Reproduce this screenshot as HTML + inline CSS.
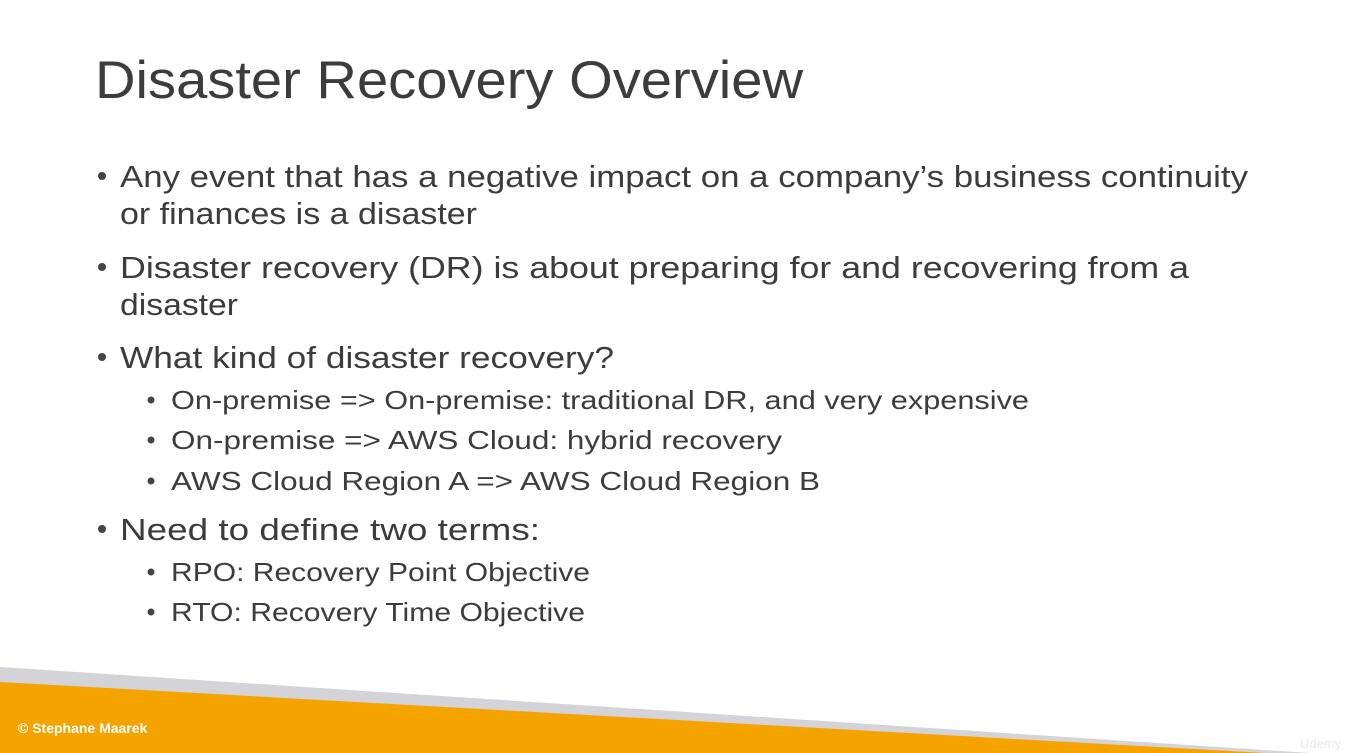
<!DOCTYPE html>
<html><head><meta charset="utf-8"><style>
html,body{margin:0;padding:0;background:#fff;}
svg{display:block;}
text{font-family:"Liberation Sans",sans-serif;fill:#3c3c3c;}
</style></head><body>
<svg width="1345" height="753" viewBox="0 0 1345 753" xmlns="http://www.w3.org/2000/svg">
<rect width="1345" height="753" fill="#fff"/>
<text x="95" y="98" font-size="53" textLength="708" lengthAdjust="spacingAndGlyphs">Disaster Recovery Overview</text>
<g font-size="31">
<circle cx="102" cy="176" r="4" fill="#444"/>
<text x="120" y="187" textLength="1128" lengthAdjust="spacingAndGlyphs">Any event that has a negative impact on a company’s business continuity</text>
<text x="120" y="224" textLength="357" lengthAdjust="spacingAndGlyphs">or finances is a disaster</text>
<circle cx="102" cy="267" r="4" fill="#444"/>
<text x="120" y="278" textLength="1069" lengthAdjust="spacingAndGlyphs">Disaster recovery (DR) is about preparing for and recovering from a</text>
<text x="120" y="315" textLength="118" lengthAdjust="spacingAndGlyphs">disaster</text>
<circle cx="102" cy="357" r="4" fill="#444"/>
<text x="120" y="368" textLength="494" lengthAdjust="spacingAndGlyphs">What kind of disaster recovery?</text>
<circle cx="102" cy="529" r="4" fill="#444"/>
<text x="120" y="540" textLength="420" lengthAdjust="spacingAndGlyphs">Need to define two terms:</text>
</g>
<g font-size="26">
<circle cx="151" cy="400" r="3.5" fill="#444"/>
<text x="171" y="409" textLength="858" lengthAdjust="spacingAndGlyphs">On-premise =&gt; On-premise: traditional DR, and very expensive</text>
<circle cx="151" cy="440" r="3.5" fill="#444"/>
<text x="171" y="449" textLength="611" lengthAdjust="spacingAndGlyphs">On-premise =&gt; AWS Cloud: hybrid recovery</text>
<circle cx="151" cy="481" r="3.5" fill="#444"/>
<text x="171" y="490" textLength="649" lengthAdjust="spacingAndGlyphs">AWS Cloud Region A =&gt; AWS Cloud Region B</text>
<circle cx="151" cy="572" r="3.5" fill="#444"/>
<text x="171" y="581" textLength="419" lengthAdjust="spacingAndGlyphs">RPO: Recovery Point Objective</text>
<circle cx="151" cy="612" r="3.5" fill="#444"/>
<text x="171" y="621" textLength="414" lengthAdjust="spacingAndGlyphs">RTO: Recovery Time Objective</text>
</g>
<polygon points="0,667 1310,753 0,753" fill="#d4d4d8"/>
<polygon points="0,682 1265,753 0,753" fill="#f5a300"/>
<text x="18" y="733" font-size="14" font-weight="bold" style="fill:#fff">© Stephane Maarek</text>
<text x="1300" y="748" font-size="13" style="fill:#e8e8e8">Udemy</text>
</svg>
</body></html>
